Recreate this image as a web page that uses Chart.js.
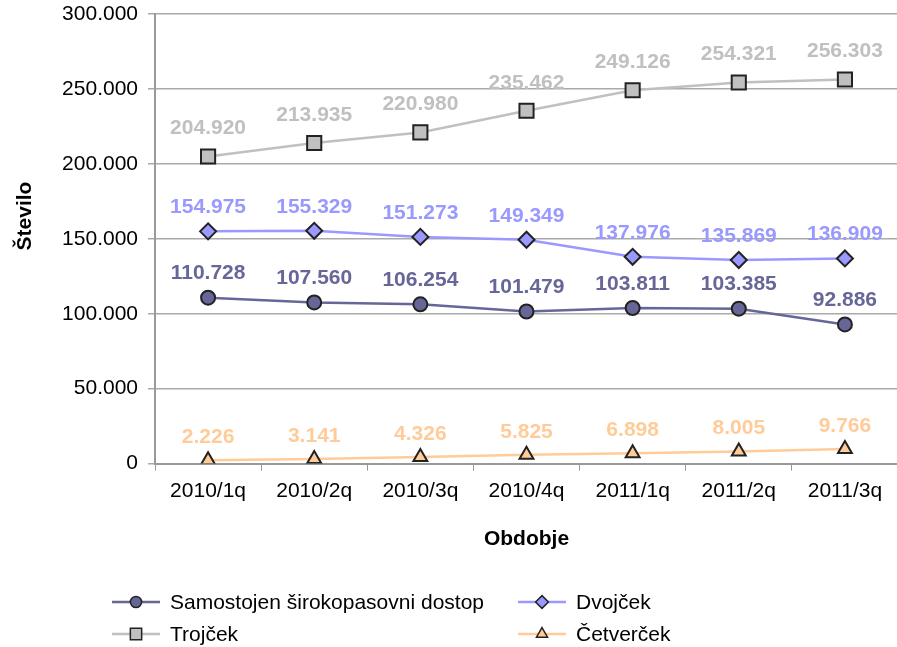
<!DOCTYPE html>
<html>
<head>
<meta charset="utf-8">
<script src="https://cdn.jsdelivr.net/npm/chart.js@4.4.0/dist/chart.umd.min.js"></script>
<style>
  html, body { margin:0; padding:0; background:#fff; overflow:hidden; }
  #wrap { width:910px; height:647px; }
</style>
</head>
<body>
<div id="wrap"><canvas id="chart" width="910" height="647"></canvas></div>
<script>
const periods = ['2010/1q','2010/2q','2010/3q','2010/4q','2011/1q','2011/2q','2011/3q'];

const samostojen = [110728, 107560, 106254, 101479, 103811, 103385, 92886];
const dvojcek    = [154975, 155329, 151273, 149349, 137976, 135869, 136909];
const trojcek    = [204920, 213935, 220980, 235462, 249126, 254321, 256303];
const cetvercek  = [2226, 3141, 4326, 5825, 6898, 8005, 9766];

const seriesNames = ['Samostojen širokopasovni dostop','Dvojček','Trojček','Četverček'];
const lineColors  = ['#666699','#9999ff','#c0c0c0','#ffcc99'];
const pointStyles = ['circle','rectRot','rect','triangle'];
const pointSizes  = [7, 8, 10, 8];
const labelGap    = [24, 24, 28, 23];

const FONT = '"Liberation Sans", Arial, sans-serif';

function fmt(v){
  if(v === 0) return '0';
  return String(Math.round(v)).replace(/\B(?=(\d{3})+(?!\d))/g, '.');
}

// =======================
// DATA LABELS ABOVE POINTS
// =======================
const labelPlugin = {
  id:'valueLabels',
  afterDatasetsDraw(chart){
    const ctx = chart.ctx;
    ctx.save();
    ctx.font = 'bold 21px ' + FONT;
    ctx.textAlign = 'center';
    ctx.textBaseline = 'middle';
    chart.data.datasets.forEach((ds,i)=>{
      const meta = chart.getDatasetMeta(i);
      ctx.fillStyle = lineColors[i];
      meta.data.forEach((pt,j)=>{
        ctx.fillText(fmt(ds.data[j]), pt.x, pt.y - labelGap[i]);
      });
    });
    ctx.restore();
  }
};

// =======================
// LEGEND (line + marker) + Y TITLE
// =======================
const legendPlugin = {
  id:'lineLegend',
  afterDraw(chart){
    const ctx = chart.ctx;
    const cols = [112, 518];
    const rows = [602, 634];
    ctx.save();
    ctx.font = '21px ' + FONT;
    ctx.textBaseline = 'middle';
    seriesNames.forEach((name,i)=>{
      const x = cols[i%2], y = rows[Math.floor(i/2)];
      ctx.strokeStyle = lineColors[i];
      ctx.lineWidth = 2.5;
      ctx.beginPath(); ctx.moveTo(x,y); ctx.lineTo(x+48,y); ctx.stroke();
      ctx.fillStyle = lineColors[i];
      ctx.strokeStyle = '#222';
      ctx.lineWidth = 1.5;
      Chart.helpers.drawPoint(ctx, {pointStyle:pointStyles[i], radius:pointSizes[i]*0.8, rotation:0, borderWidth:1.5}, x+24, y);
      ctx.fillStyle = '#000';
      ctx.fillText(name, x+58, y+1);
    });

    // y axis title
    ctx.translate(25, 216);
    ctx.rotate(-Math.PI/2);
    ctx.font = 'bold 21px ' + FONT;
    ctx.textAlign = 'center';
    ctx.fillText('Število', 0, 0);
    ctx.restore();
  }
};

const datasetsData = [samostojen, dvojcek, trojcek, cetvercek];

new Chart(document.getElementById('chart'), {
  type:'line',
  data:{
    labels: periods,
    datasets: datasetsData.map((d,i)=>({
      label: seriesNames[i],
      data: d,
      borderColor: lineColors[i],
      borderWidth: 2.5,
      backgroundColor: lineColors[i],
      pointStyle: pointStyles[i],
      pointRadius: pointSizes[i],
      pointBackgroundColor: lineColors[i],
      pointBorderColor: '#222',
      pointBorderWidth: 2,
      tension: 0,
      fill: false
    }))
  },
  options:{
    responsive:false,
    animation:false,
    layout:{ padding:{ top:14, right:6, bottom:91, left:0 } },
    plugins:{ legend:{ display:false }, tooltip:{ enabled:false } },
    scales:{
      x:{
        offset:true,
        grid:{ display:true, drawOnChartArea:false, drawTicks:true, tickLength:7, offset:true, color:'#999' },
        border:{ color:'#999', width:2 },
        ticks:{ color:'#000', font:{ family:FONT, size:21 }, padding:8 },
        title:{ display:true, text:'Obdobje', color:'#000', font:{ family:FONT, size:21, weight:'bold' }, padding:{ top:15 } }
      },
      y:{
        min:0, max:300000,
        ticks:{ stepSize:50000, color:'#000', font:{ family:FONT, size:21 }, padding:10, callback:v=>fmt(v) },
        grid:{ color:'#aaa', lineWidth:1.5, tickLength:7 },
        border:{ color:'#999', width:2 },
        afterFit(scale){ scale.width = 155; scale.paddingTop = 0; scale.paddingBottom = 0; }
      }
    }
  },
  plugins:[labelPlugin, legendPlugin]
});
</script>
</body>
</html>
